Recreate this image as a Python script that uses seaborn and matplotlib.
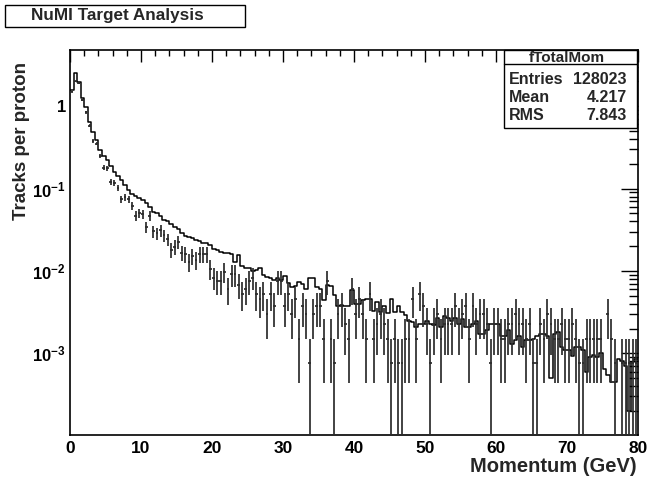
import numpy as np
import pandas as pd
import matplotlib
matplotlib.use("Agg")
import matplotlib.pyplot as plt
import seaborn as sns
from matplotlib.ticker import FixedLocator, FixedFormatter, MultipleLocator, NullFormatter
from matplotlib.patches import Rectangle
from matplotlib.lines import Line2D

# ---------------- data ----------------
x_range = (0.0, 80.0)
bin_width = 0.5

# simulated histogram, tracks per proton per 0.5 GeV bin
mc_tracks = [
    1.56, 2.5, 1.97, 1.24, 0.98, 0.64, 0.49, 0.39, 0.29, 0.25,
    0.22, 0.19, 0.16, 0.14, 0.126, 0.11, 0.096, 0.085, 0.081, 0.077,
    0.072, 0.066, 0.060, 0.052, 0.050, 0.047, 0.042, 0.040, 0.037, 0.034,
    0.032, 0.029, 0.0264, 0.0256, 0.0248, 0.0236, 0.0232, 0.0219, 0.0216, 0.0206,
    0.0186, 0.0179, 0.0170, 0.0167, 0.0163, 0.0160, 0.0129, 0.0155, 0.0115, 0.0108,
    0.0110, 0.0100, 0.0104, 0.0107, 0.0089, 0.0085, 0.0081, 0.0077, 0.0081, 0.0077,
    0.0087, 0.0071, 0.0064, 0.0065, 0.0074, 0.0069, 0.0061, 0.0081, 0.0081, 0.0064,
    0.0061, 0.0044, 0.0067, 0.0065, 0.0051, 0.0037, 0.0039, 0.0038, 0.0037, 0.0059,
    0.0040, 0.0040, 0.0044, 0.0046, 0.0046, 0.0033, 0.0042, 0.0032, 0.0037, 0.0031,
    0.0045, 0.0032, 0.0037, 0.0032, 0.0029, 0.0025, 0.0024, 0.0021, 0.0023, 0.0023,
    0.0025, 0.0023, 0.0022, 0.0027, 0.0021, 0.0028, 0.0027, 0.0025, 0.0027, 0.0023,
    0.0026, 0.0021, 0.0021, 0.0023, 0.0025, 0.0017, 0.0017, 0.0019, 0.0023, 0.0023,
    0.0023, 0.0016, 0.0016, 0.0019, 0.0013, 0.00145, 0.0016, 0.0012, 0.00145, 0.00145,
    0.0015, 0.0016, 0.0017, 0.0017, 0.0016, 0.0005, 0.0017, 0.0018, 0.0012, 0.0011,
    0.0011, 0.00093, 0.0012, 0.0012, 0.0011, 0.0006, 0.0009, 0.00095, 0.0009, 0.001,
    0.00065, 0.00055, 0.00045, 0.00045, 0.00085, 0.0008, 0.0007, 0.0002, 0.00079, 0.00085,
]

# measured entries per bin (data points)
data_entries = [
    1990, 2650, 2500, 1590, 1110, 770, 500, 465, 327, 238,
    232, 160, 156, 136, 98, 105, 98, 81, 62, 66,
    65, 45, 62, 40, 38, 41, 36, 32, 24, 26,
    30, 22, 21, 17, 20, 18, 21, 21, 21, 14,
    11, 10, 10, 13, 8, 12, 12, 9, 7, 8,
    10, 11, 7, 6, 7, 4, 7, 5, 10, 10,
    5, 7, 4, 6, 2, 5, 4, 1, 4, 5,
    5, 2, 10, 2, 1, 4, 5, 3, 2, 8,
    4, 6, 4, 2, 7, 2, 3, 4, 3, 2,
    1, 2, 1, 1, 2, 2, 6, 2, 7, 5,
    3, 1, 3, 4, 2, 3, 3, 3, 5, 3,
    4, 5, 2, 5, 3, 4, 4, 3, 1, 3,
    3, 2, 2, 3, 3, 4, 3, 3, 2, 3,
    1, 1, 3, 2, 4, 3, 2, 2, 3, 2,
    2, 3, 2, 1, 1, 2, 2, 2, 2, 2,
    0, 4, 2, 1, 0, 1, 1, 1, 1, 1,
]
tracks_per_entry = 7.55e-4

title_text = "NuMI Target Analysis"
x_title = "Momentum (GeV)"
y_title = "Tracks per proton"
stats_name = "fTotalMom"
stats_rows = [("Entries", "128023"), ("Mean", "4.217"), ("RMS", "7.843")]

# ---------------- style ----------------
sns.set_theme(style="white")
plt.rcParams["font.family"] = ["Liberation Sans", "DejaVu Sans"]
plt.rcParams["font.weight"] = "bold"
plt.rcParams["mathtext.fontset"] = "custom"
plt.rcParams["mathtext.rm"] = "Liberation Sans:bold"
plt.rcParams["mathtext.bf"] = "Liberation Sans:bold"
plt.rcParams["mathtext.it"] = "Liberation Sans:bold"

W, H = 652, 478
fig = plt.figure(figsize=(W / 100, H / 100), dpi=100)
fig.patch.set_facecolor("white")

def fx(px):
    return px / W

def fy(py):
    return 1 - py / H

ax = fig.add_axes([fx(70), fy(435), (638 - 70) / W, (435 - 50) / H])
ax.set_facecolor("white")

n_bins = len(mc_tracks)
edges = x_range[0] + bin_width * np.arange(n_bins + 1)
centers = 0.5 * (edges[:-1] + edges[1:])

df_mc = pd.DataFrame({"momentum": centers, "tracks": mc_tracks})
sns.histplot(data=df_mc, x="momentum", weights="tracks", binwidth=bin_width,
             binrange=x_range, element="step", fill=False, color="black",
             linewidth=1.1, ax=ax)

entries = np.array(data_entries, dtype=float)
mask = entries > 0
vals = entries[mask] * tracks_per_entry
errs = np.sqrt(entries[mask]) * tracks_per_entry
lower = np.minimum(errs, vals - 1e-7)
ax.errorbar(centers[mask], vals, xerr=0.2, yerr=[lower, errs], fmt="none",
            ecolor="#2b2b2b", elinewidth=1.25, capsize=0, zorder=3)

ax.set_yscale("log")
ax.set_xlim(*x_range)
ax.set_ylim(1.02e-4, 4.8)
ax.set_xlabel("")
ax.set_ylabel("")

# ticks
ax.set_xticks(np.arange(0, 81, 10))
ax.set_xticklabels([str(v) for v in range(0, 81, 10)])
ax.xaxis.set_minor_locator(MultipleLocator(2))
ax.yaxis.set_major_locator(FixedLocator([1e-3, 1e-2, 1e-1, 1]))
ax.yaxis.set_major_formatter(FixedFormatter([r"$10^{-3}$", r"$10^{-2}$", r"$10^{-1}$", "1"]))
minors = [m * 10.0 ** e for e in range(-4, 1) for m in range(2, 10)]
ax.yaxis.set_minor_locator(FixedLocator(minors))
ax.yaxis.set_minor_formatter(NullFormatter())

ax.tick_params(axis="both", which="both", direction="in", top=True, right=True,
               width=1.0, colors="black")
ax.tick_params(axis="x", which="major", length=8.5, pad=4, labelsize=12.5)
ax.tick_params(axis="x", which="minor", length=4.2)
ax.tick_params(axis="y", which="major", length=12.5, pad=3, labelsize=12)
ax.tick_params(axis="y", which="minor", length=6.3)
for lab in ax.get_xticklabels() + ax.get_yticklabels():
    lab.set_fontweight("bold")

for s in ax.spines.values():
    s.set_visible(True)
    s.set_color("black")
    s.set_linewidth(1.2)

# axis titles
fig.text(fx(637), fy(466), x_title, ha="right", va="center", fontsize=14.5, fontweight="bold")
fig.text(fx(22), fy(62), y_title, ha="center", va="top", rotation=90, fontsize=13.5, fontweight="bold")

# title box
fig.add_artist(Rectangle((fx(5), fy(27)), 240 / W, 22 / H, transform=fig.transFigure,
                         facecolor="white", edgecolor="black", linewidth=1.0, zorder=5))
fig.text(fx(117), fy(15.5), title_text, ha="center", va="center", fontsize=12.3,
         fontweight="bold", zorder=6)

# statistics box
bx0, bx1, by0, by1 = 503.5, 636.5, 50.5, 127.5
fig.add_artist(Rectangle((fx(bx0), fy(by1)), (bx1 - bx0) / W, (by1 - by0) / H,
                         transform=fig.transFigure, facecolor="white", edgecolor="black",
                         linewidth=1.0, zorder=5))
fig.add_artist(Line2D([fx(bx0), fx(bx1)], [fy(63.5), fy(63.5)], transform=fig.transFigure,
                      color="black", linewidth=1.0, zorder=6))
fig.text(fx(567), fy(57.5), stats_name, ha="center", va="center", fontsize=11,
         fontweight="bold", zorder=7)
for (lab, val), yy in zip(stats_rows, [79.5, 97.5, 115]):
    fig.text(fx(509), fy(yy), lab, ha="left", va="center", fontsize=11.5, fontweight="bold", zorder=7)
    fig.text(fx(627), fy(yy), val, ha="right", va="center", fontsize=11.5, fontweight="bold", zorder=7)

fig.savefig("out.png", dpi=100, facecolor="white")
